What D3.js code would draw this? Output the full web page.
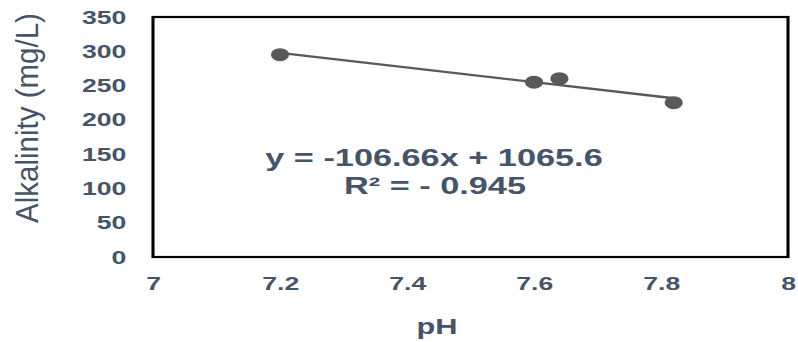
<!DOCTYPE html>
<html>
<head>
<meta charset="utf-8">
<script src="https://cdn.jsdelivr.net/npm/d3@7"></script>
<style>
body { margin: 0; background: #fff; }
</style>
</head>
<body>
<script>
var phValues = [7.2, 7.6, 7.64, 7.82];
var alkalinity = [295, 255, 260, 225];
var xTicks = [7, 7.2, 7.4, 7.6, 7.8, 8];
var yTicks = [0, 50, 100, 150, 200, 250, 300, 350];
var slope = -106.66;
var intercept = 1065.6;
var equationText = "y = -106.66x + 1065.6";
var r2Text = "R\u00b2 = - 0.945";

var w = 798;
var h = 342;
var stretch = 1.4;          // the picture is stretched sideways
var vw = w / stretch;
var textColor = "#44546A";
var font = "Arial, 'Liberation Sans', sans-serif";

var svg = d3.select("body")
    .append("svg")
    .attr("width", w)
    .attr("height", h)
    .attr("viewBox", "0 0 " + vw + " " + h)
    .attr("preserveAspectRatio", "none");

var plotLeft = 153 / stretch, plotRight = 788 / stretch, plotTop = 17, plotBottom = 257;

var x = d3.scaleLinear().domain([7, 8]).range([plotLeft, plotRight]);
var y = d3.scaleLinear().domain([0, 350]).range([plotBottom, plotTop]);

var yAxis = svg.append("g")
    .attr("transform", "translate(" + (plotLeft - 19) + ",0)")
    .call(d3.axisLeft(y).tickValues(yTicks).tickSize(0).tickPadding(0));
yAxis.select(".domain").remove();
yAxis.selectAll("text")
    .attr("font-family", font)
    .attr("font-weight", "bold")
    .attr("font-size", "19px")
    .attr("fill", textColor);

var xAxis = svg.append("g")
    .attr("transform", "translate(0," + (plotBottom + 20) + ")")
    .call(d3.axisBottom(x).tickValues(xTicks).tickSize(0).tickPadding(0).tickFormat(d3.format("")));
xAxis.select(".domain").remove();
xAxis.selectAll("text")
    .attr("font-family", font)
    .attr("font-weight", "bold")
    .attr("font-size", "19px")
    .attr("fill", textColor);

svg.append("rect")
    .attr("x", plotLeft)
    .attr("y", plotTop)
    .attr("width", plotRight - plotLeft)
    .attr("height", plotBottom - plotTop)
    .attr("fill", "none")
    .attr("stroke", "#000")
    .attr("stroke-width", 2.2);

// trend line
var xs = d3.extent(phValues);
svg.append("line")
    .attr("x1", x(xs[0]))
    .attr("y1", y(slope * xs[0] + intercept))
    .attr("x2", x(xs[1]))
    .attr("y2", y(slope * xs[1] + intercept))
    .attr("stroke", "#595959")
    .attr("stroke-width", 2.3);

svg.selectAll("circle")
    .data(phValues)
    .enter()
    .append("circle")
    .attr("cx", function(d) { return x(d); })
    .attr("cy", function(d, i) { return y(alkalinity[i]); })
    .attr("r", 6.5)
    .attr("fill", "#595959");

svg.append("text")
    .text(equationText)
    .attr("x", 434 / stretch)
    .attr("y", 166)
    .attr("text-anchor", "middle")
    .attr("font-family", font)
    .attr("font-weight", "bold")
    .attr("font-size", "24.5px")
    .attr("fill", textColor);

svg.append("text")
    .text(r2Text)
    .attr("x", 435 / stretch)
    .attr("y", 194)
    .attr("text-anchor", "middle")
    .attr("font-family", font)
    .attr("font-weight", "bold")
    .attr("font-size", "24.5px")
    .attr("fill", textColor);

svg.append("text")
    .text("pH")
    .attr("x", 437 / stretch)
    .attr("y", 334)
    .attr("text-anchor", "middle")
    .attr("font-family", font)
    .attr("font-weight", "bold")
    .attr("font-size", "22px")
    .attr("fill", textColor);

svg.append("text")
    .text("Alkalinity (mg/L)")
    .attr("transform", "translate(" + (38 / stretch) + ",118) rotate(-90) scale(1,0.75)")
    .attr("text-anchor", "middle")
    .attr("font-family", font)
    .attr("font-size", "29.5px")
    .attr("fill", textColor);
</script>
</body>
</html>
